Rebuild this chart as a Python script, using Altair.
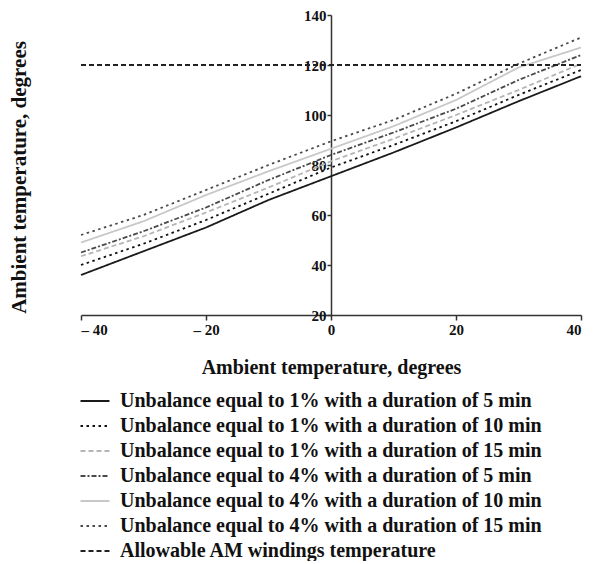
import altair as alt
import pandas as pd

x_vals = [-40, -30, -20, -10, 0, 10, 20, 30, 40]

series_names = [
    "Unbalance equal to 1% with a duration of 5 min",
    "Unbalance equal to 1% with a duration of 10 min",
    "Unbalance equal to 1% with a duration of 15 min",
    "Unbalance equal to 4% with a duration of 5 min",
    "Unbalance equal to 4% with a duration of 10 min",
    "Unbalance equal to 4% with a duration of 15 min",
    "Allowable AM windings temperature",
]

u1_5 = [36, 45.5, 55, 66, 75.5, 85, 95, 105.5, 115.5]
u1_10 = [40, 48.5, 58, 68.5, 79, 88, 97.5, 108, 118]
u1_15 = [43.5, 51.5, 61, 71, 81.5, 90.5, 100, 110, 120.5]
u4_5 = [45, 53.5, 63, 74, 84, 93, 102.5, 114, 124]
u4_10 = [49, 57.5, 68, 77.5, 86.5, 95.5, 106, 119, 127]
u4_15 = [52, 60, 70, 80, 89.5, 98, 108.5, 120.5, 131]
allowable = [120, 120, 120, 120, 120, 120, 120, 120, 120]

x_ticks = [-40, -20, 0, 20, 40]
y_ticks = [20, 40, 60, 80, 100, 120, 140]

colors = ["#1a1a1a", "#111111", "#b5b5b5", "#4a4a4a", "#c8c8c8", "#4a4a4a", "#222222"]
dashes = [[1, 0], [2.5, 3.5], [5, 3], [5, 2, 2, 2], [1, 0], [2.5, 3.5], [5, 3]]

all_series = [u1_5, u1_10, u1_15, u4_5, u4_10, u4_15, allowable]
rows = []
for name, vals in zip(series_names, all_series):
    for xv, yv in zip(x_vals, vals):
        rows.append({"x": xv, "y": yv, "series": name})
df = pd.DataFrame(rows)

FONT = "Liberation Serif"
W, H = 500, 300


def make_legend():
    return alt.Legend(
        title=None,
        orient="none",
        legendX=4,
        legendY=376,
        symbolType="M-2,0H2",
        symbolSize=210,
        symbolStrokeWidth=2,
        labelFont=FONT,
        labelFontWeight="bold",
        labelFontSize=20,
        labelColor="#111",
        labelLimit=0,
        labelOffset=15,
        rowPadding=5,
        padding=0,
    )


chart = (
    alt.Chart(df)
    .mark_line(strokeWidth=1.8)
    .encode(
        x=alt.X(
            "x:Q",
            scale=alt.Scale(domain=[-40, 40], nice=False, zero=False),
            axis=alt.Axis(
                values=x_ticks,
                title="Ambient temperature, degrees",
                labelExpr="datum.value < 0 ? '– ' + abs(datum.value) : datum.label",
                grid=False,
                tickSize=5,
                titlePadding=20,
            ),
        ),
        y=alt.Y(
            "y:Q",
            scale=alt.Scale(domain=[20, 140], nice=False, zero=False),
            axis=alt.Axis(
                values=y_ticks,
                title="Ambient temperature, degrees",
                offset=-W / 2,
                grid=False,
                tickSize=4,
                labelPadding=1,
                titleX=-W / 2 - 62,
                titleY=H / 2 + 12,
                titleAngle=270,
                titleAlign="center",
                titleBaseline="middle",
                titleFontSize=21,
            ),
        ),
        color=alt.Color(
            "series:N",
            scale=alt.Scale(domain=series_names, range=colors),
            legend=make_legend(),
        ),
        strokeDash=alt.StrokeDash(
            "series:N",
            scale=alt.Scale(domain=series_names, range=dashes),
            legend=make_legend(),
        ),
        detail="series:N",
    )
    .properties(width=W, height=H, padding=0)
    .configure_view(stroke=None)
    .configure_axis(
        labelFont=FONT,
        labelFontWeight="bold",
        labelFontSize=15,
        labelColor="#111",
        titleFont=FONT,
        titleFontWeight="bold",
        titleFontSize=20,
        titleColor="#111",
        domainColor="#333",
        tickColor="#333",
        domainWidth=1.5,
        tickWidth=1.5,
    )
)

chart.save("out.html", embed_options={"renderer": "svg", "actions": False})
